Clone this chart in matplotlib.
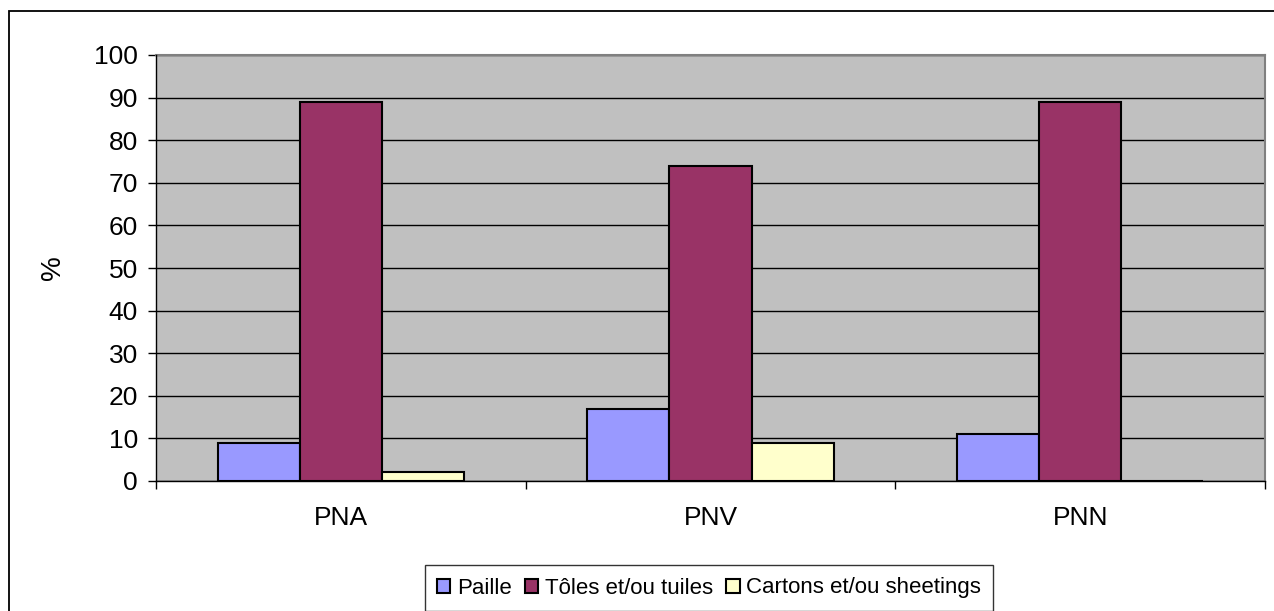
import numpy as np
import matplotlib.pyplot as plt
from matplotlib.patches import Rectangle

# roof materials by zone (%)
zones = ['PNA', 'PNV', 'PNN']
series = ['Paille', 'Tôles et/ou tuiles', 'Cartons et/ou sheetings']
paille = [9, 17, 11]
toles = [89, 74, 89]
cartons = [2, 9, 0]
colors = ['#9999FF', '#993366', '#FFFFCC']

plt.rcParams['font.family'] = ['Liberation Sans', 'DejaVu Sans']

fig = plt.figure(figsize=(12.74, 6.11), dpi=100)
ax = fig.add_axes([156/1274, 1-481/611, (1265-156)/1274, (481-55)/611])

# outer chart frame (runs off the right and bottom edges)
fig.patches.append(Rectangle((9/1274, -0.05), 1.2, 1-11/611+0.05,
                             transform=fig.transFigure, fill=False,
                             edgecolor='black', linewidth=1.3))

x = np.arange(len(zones))
w = 0.222
handles = []
for i, (vals, c, lab) in enumerate(zip([paille, toles, cartons], colors, series)):
    b = ax.bar(x + (i - 1) * w, vals, w, color=c, edgecolor='black',
               linewidth=1.5, label=lab, zorder=3)
    handles.append(b)

ax.set_facecolor('#C0C0C0')
ax.set_xlim(-0.5, 2.5)
ax.set_ylim(0, 100)
ax.set_yticks(range(0, 101, 10))
ax.grid(axis='y', color='black', linewidth=1, zorder=1)
ax.set_axisbelow(True)

for s in ['top', 'right']:
    ax.spines[s].set_color('#808080')
    ax.spines[s].set_linewidth(1.5)
for s in ['left', 'bottom']:
    ax.spines[s].set_color('black')
    ax.spines[s].set_linewidth(1)
    ax.spines[s].set_zorder(4)

# category boundaries get ticks, names sit between them
ax.set_xticks([-0.5, 0.5, 1.5, 2.5])
ax.set_xticklabels([])
ax.set_xticks(x, minor=True)
ax.set_xticklabels(zones, minor=True, fontsize=19)
ax.tick_params(axis='x', which='minor', length=0, pad=18)
ax.tick_params(axis='x', which='major', length=6, width=1)
ax.tick_params(axis='y', length=6, width=1, labelsize=19, pad=7)

ax.set_ylabel('%', fontsize=20)
ax.yaxis.set_label_coords((66-156)/1109, 0.5)

leg = fig.legend(handles=handles, labels=series, loc='center',
                 bbox_to_anchor=(709/1274, 1-588/611), ncol=3,
                 fontsize=16, frameon=True, fancybox=False,
                 edgecolor='black', handlelength=0.6, handleheight=0.6,
                 handletextpad=0.3, columnspacing=0.6, borderpad=0.55)
leg.get_frame().set_linewidth(1)

fig.savefig('out.png', dpi=100)
